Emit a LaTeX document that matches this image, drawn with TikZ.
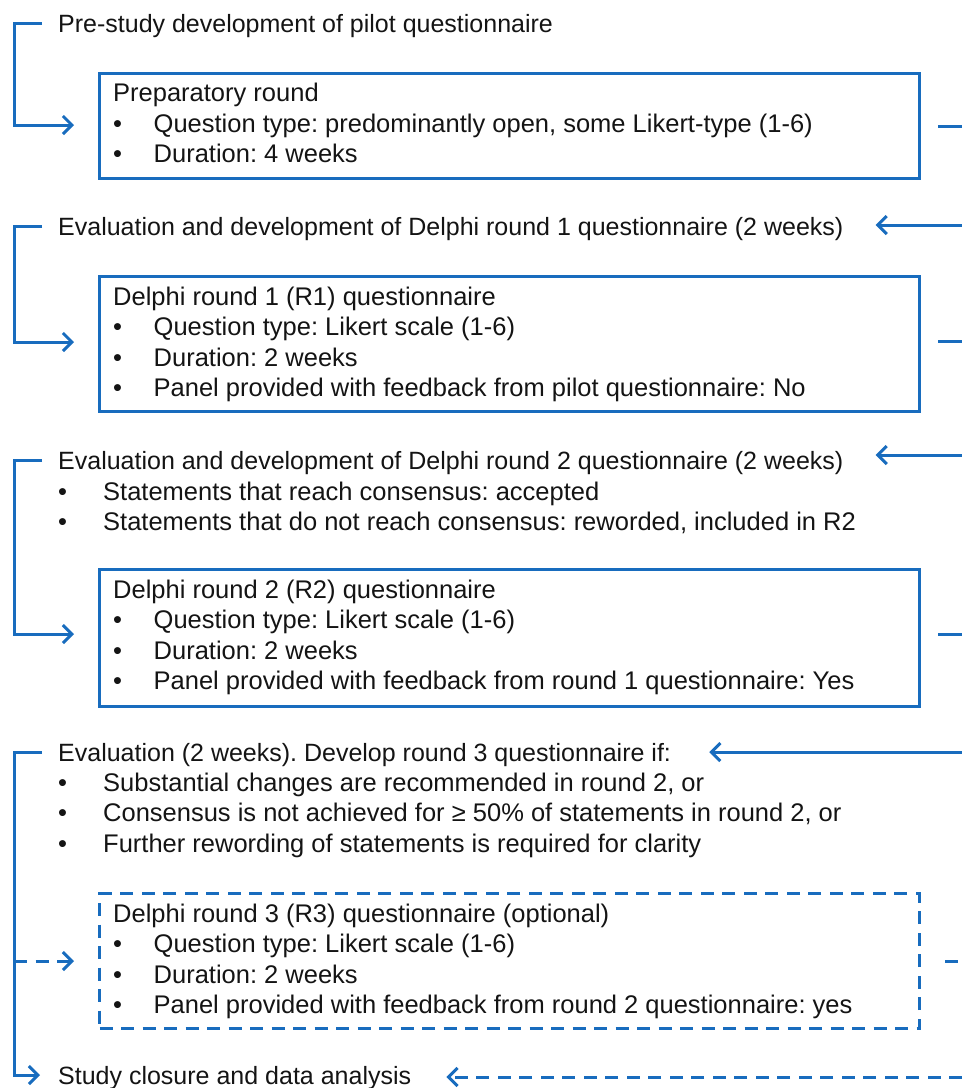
\documentclass[tikz,border=0pt]{standalone}
\usepackage{fontspec}
\setmainfont{Liberation Sans}
\usetikzlibrary{arrows.meta}
\definecolor{flowblue}{RGB}{24,108,190}
\definecolor{ink}{RGB}{20,20,20}
\newcommand{\bx}{\makebox[40.5pt][l]{•}}
\newcommand{\hb}{\makebox[45pt][l]{•}}
\frenchspacing
\begin{document}
\frenchspacing
\begin{tikzpicture}[x=1pt,y=-1pt,
  txt/.style={anchor=west,inner sep=0pt,text height=18pt,text depth=0pt,font=\fontsize{25}{30}\selectfont\frenchspacing,text=ink},
  txtb/.style={txt,font=\fontsize{25.5}{30}\selectfont\frenchspacing},
  boxn/.style={draw=flowblue,line width=3pt,minimum width=820pt,anchor=north west,inner sep=0pt},
  flow/.style={draw=flowblue,line width=3pt},
  tip/.style={-{Straight Barb[length=9pt,width=18pt]}},
  dsh/.style={dash pattern=on 13pt off 8.5pt}]
\useasboundingbox (0,0) rectangle (962,1088);
\coordinate (L) at (14,0);
\coordinate (R) at (962,0);

% block 1
\node[txt] (h1) at (58,23) {Pre-study development of pilot questionnaire};
\node[boxn,minimum height=105pt] (b1) at (98,72) {};
\node[txtb] (b1a) at (113,92.5) {Preparatory round};
\node[txtb] (b1b) at (113,123) {\bx Question type: predominantly open, some Likert-type (1-6)};
\node[txtb] (b1c) at (113,153.5) {\bx Duration: 4 weeks};

% block 2
\node[txt] (h2) at (58,226) {Evaluation and development of Delphi round 1 questionnaire (2 weeks)};
\node[boxn,minimum height=135pt] (b2) at (98,275) {};
\node[txtb] (b2a) at (113,296) {Delphi round 1 (R1) questionnaire};
\node[txtb] (b2b) at (113,326.5) {\bx Question type: Likert scale (1-6)};
\node[txtb] (b2c) at (113,357) {\bx Duration: 2 weeks};
\node[txtb] (b2d) at (113,387.5) {\bx Panel provided with feedback from pilot questionnaire: No};

% block 3
\node[txt] (h3) at (58,460) {Evaluation and development of Delphi round 2 questionnaire (2 weeks)};
\node[txtb] (h3a) at (58,491) {\hb Statements that reach consensus: accepted};
\node[txtb] (h3b) at (58,521) {\hb Statements that do not reach consensus: reworded, included in R2};
\node[boxn,minimum height=137pt] (b3) at (98,568) {};
\node[txtb] (b3a) at (113,589) {Delphi round 2 (R2) questionnaire};
\node[txtb] (b3b) at (113,619.5) {\bx Question type: Likert scale (1-6)};
\node[txtb] (b3c) at (113,650) {\bx Duration: 2 weeks};
\node[txtb] (b3d) at (113,680.5) {\bx Panel provided with feedback from round 1 questionnaire: Yes};

% block 4
\node[txt] (h4) at (58,752) {Evaluation (2 weeks). Develop round 3 questionnaire if:};
\node[txtb] (h4a) at (58,782) {\hb Substantial changes are recommended in round 2, or};
\node[txtb] (h4b) at (58,812) {\hb Consensus is not achieved for ≥ 50\% of statements in round 2, or};
\node[txtb] (h4c) at (58,843) {\hb Further rewording of statements is required for clarity};
\node[boxn,dsh,minimum height=135pt] (b4) at (98,892) {};
\node[txtb] (b4a) at (113,913) {Delphi round 3 (R3) questionnaire (optional)};
\node[txtb] (b4b) at (113,943.5) {\bx Question type: Likert scale (1-6)};
\node[txtb] (b4c) at (113,974) {\bx Duration: 2 weeks};
\node[txtb] (b4d) at (113,1004.5) {\bx Panel provided with feedback from round 2 questionnaire: yes};

% closure
\node[txt] (sc) at (58,1075) {Study closure and data analysis};

% left brackets
\draw[flow,tip] ([xshift=-16pt]h1.west) -- (h1.west -| L) |- ([xshift=-24pt,yshift=1pt]b1.west);
\draw[flow,tip] ([xshift=-16pt]h2.west) -- (h2.west -| L) |- ([xshift=-24pt,yshift=2pt]b2.west);
\draw[flow,tip] ([xshift=-16pt]h3.west) -- (h3.west -| L) |- ([xshift=-24pt,yshift=4pt]b3.west);
\draw[flow,tip] ([xshift=-16pt]h4.west) -- (h4.west -| L) |- ([xshift=-18pt]sc.west);
\draw[flow,dsh,tip] (L |- b4.west) -- ([xshift=-24pt]b4.west);

% right connectors
\draw[flow] ([xshift=17pt]b1.east) -- (b1.east -| R);
\draw[flow,tip] ([yshift=1pt]h2.east -| R) -- ([xshift=32pt,yshift=1pt]h2.east);
\draw[flow] ([xshift=17pt,yshift=3pt]b2.east) -- ([yshift=3pt]b2.east -| R);
\draw[flow,tip] ([yshift=5pt]h3.east -| R) -- ([xshift=32pt,yshift=5pt]h3.east);
\draw[flow] ([xshift=17pt,yshift=4pt]b3.east) -- ([yshift=4pt]b3.east -| R);
\draw[flow,tip] (h4.east -| R) -- ([xshift=38pt]h4.east);
\draw[flow,dsh] ([xshift=24pt]b4.east) -- (b4.east -| R);
\draw[flow,dsh,tip] ([yshift=-2pt]sc.east -| R) -- ([xshift=35pt,yshift=-2pt]sc.east);
\end{tikzpicture}
\end{document}
